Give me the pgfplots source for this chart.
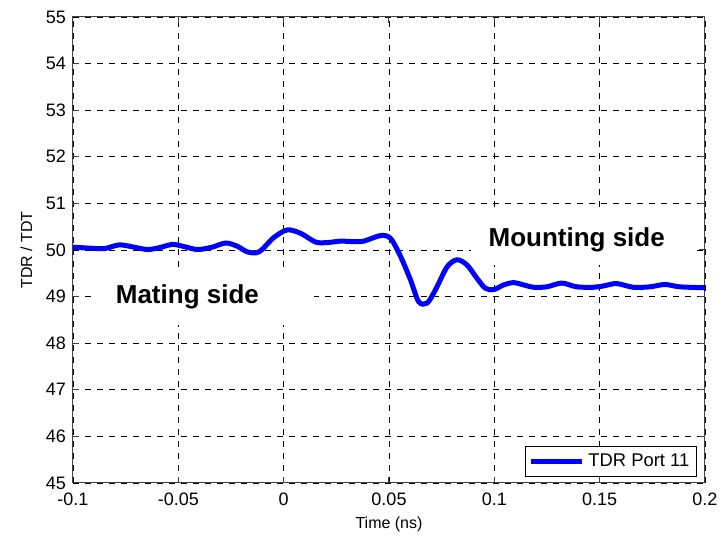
\documentclass[border=0pt]{standalone}
\usepackage{pgfplots}
\pgfplotsset{compat=1.18}
\usepackage{fontspec}
\setmainfont{Liberation Sans}
\begin{document}
\begin{tikzpicture}
\useasboundingbox (-36.5pt,-26.5pt) rectangle (326pt,241.5pt);
\begin{axis}[
  scale only axis,
  width=316pt, height=233pt,
  xmin=-0.1, xmax=0.2, ymin=45, ymax=55,
  xtick={-0.1,-0.05,0,0.05,0.1,0.15,0.2},
  xticklabels={-0.1,-0.05,0,0.05,0.1,0.15,0.2},
  ytick={45,46,...,55},
  /pgf/number format/assume math mode=true,
  tick label style={font=\fontsize{9}{10}\selectfont},
  xticklabel style={yshift=-1.5pt},
  label style={font=\fontsize{8}{9}\selectfont},
  xlabel={Time (ns)}, ylabel={TDR / TDT},
  xlabel style={yshift=1.5pt},
  ylabel style={yshift=0pt},
  grid=major,
  major grid style={black, dashed, line width=0.4pt},
  axis line style={black!75, line width=0.5pt},
  tick style={black!75, line width=0.5pt},
  tick align=inside,
  major tick length=3pt,
  legend style={at={(rel axis cs:0.987,0.013)}, anchor=south east,
    draw=black, line width=0.5pt, font=\fontsize{9.2}{10}\selectfont,
    inner sep=1.5pt, cells={anchor=west}},
  legend image post style={line width=2.5pt},
  legend image code/.code={\draw[#1] (0cm,0cm) -- (0.9cm,0cm);},
]
\fill[white] (axis cs:-0.0915,48.39) rectangle (axis cs:0.0142,49.57);
\node[font=\bfseries\fontsize{13}{15}\selectfont] at (axis cs:-0.0457,48.99) {Mating side};
\fill[white] (axis cs:0.0887,49.68) rectangle (axis cs:0.194,50.82);
\node[font=\bfseries\fontsize{13}{15}\selectfont] at (axis cs:0.1391,50.21) {Mounting side};
\addplot[color={rgb,255:red,0;green,0;blue,255}, line width=2.5pt, smooth, tension=0.5] coordinates {
(-0.1,50.06) (-0.092,50.04) (-0.085,50.03) (-0.078,50.11) (-0.071,50.06)
(-0.0646,50.01) (-0.059,50.05) (-0.0527,50.12) (-0.047,50.07) (-0.0409,50.01)
(-0.034,50.06) (-0.0275,50.15) (-0.022,50.08) (-0.0172,49.96) (-0.0117,49.96)
(-0.0046,50.27) (0.0017,50.43) (0.008,50.36) (0.0152,50.17) (0.0207,50.16)
(0.027,50.19) (0.033,50.18) (0.038,50.19) (0.046,50.31) (0.0507,50.25)
(0.0555,49.86) (0.0602,49.36) (0.0641,48.89) (0.0681,48.86) (0.072,49.14)
(0.0776,49.64) (0.0823,49.79) (0.087,49.68) (0.0918,49.39) (0.0957,49.18)
(0.0997,49.15) (0.1044,49.25) (0.1091,49.30) (0.114,49.25) (0.1186,49.2)
(0.1249,49.21) (0.132,49.29) (0.139,49.21) (0.147,49.2) (0.152,49.23)
(0.158,49.28) (0.166,49.2) (0.174,49.21) (0.181,49.26) (0.188,49.21)
(0.2,49.19)
};
\addlegendentry{TDR Port 11}
\end{axis}
\end{tikzpicture}
\end{document}
